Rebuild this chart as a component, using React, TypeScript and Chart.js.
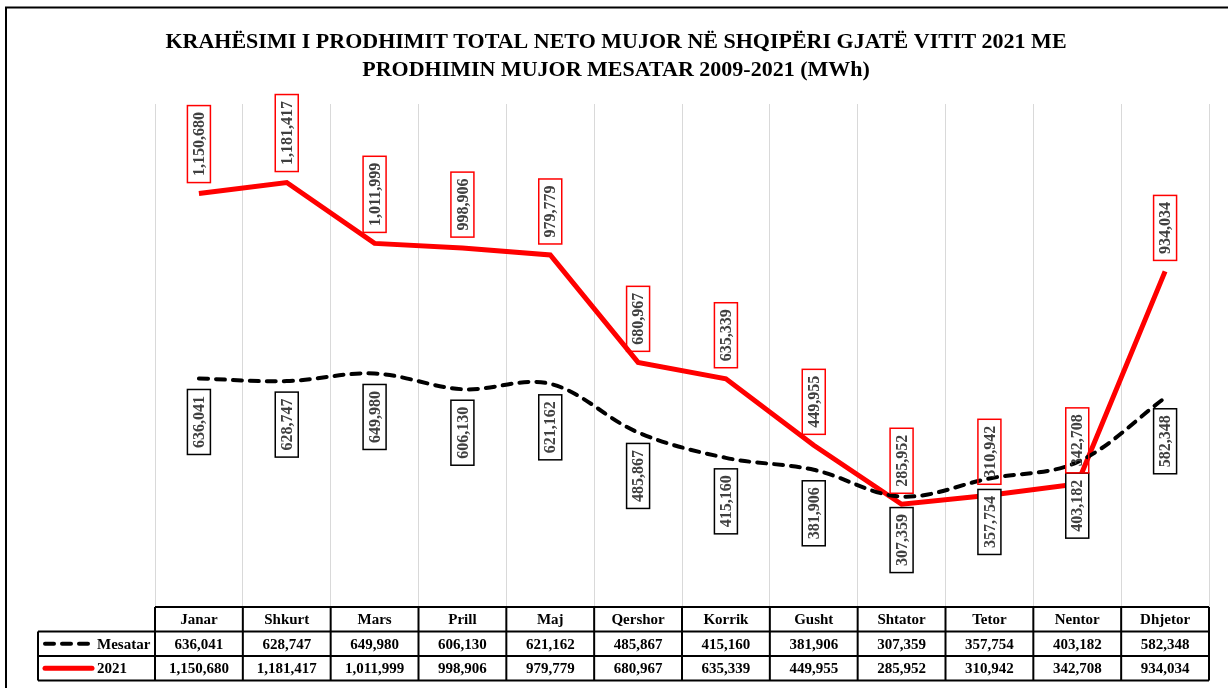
import React, { useEffect, useRef } from 'react';
import { Chart, registerables } from 'chart.js';

Chart.register(...registerables);

const titleLines = [
  'KRAHËSIMI I PRODHIMIT TOTAL NETO MUJOR NË SHQIPËRI GJATË VITIT 2021 ME',
  'PRODHIMIN MUJOR MESATAR 2009-2021 (MWh)',
];
const months = ['Janar', 'Shkurt', 'Mars', 'Prill', 'Maj', 'Qershor', 'Korrik', 'Gusht', 'Shtator', 'Tetor', 'Nentor', 'Dhjetor'];
const seriesNames = ['Mesatar', '2021'];
const mesatar = [636041, 628747, 649980, 606130, 621162, 485867, 415160, 381906, 307359, 357754, 403182, 582348];
const prod2021 = [1150680, 1181417, 1011999, 998906, 979779, 680967, 635339, 449955, 285952, 310942, 342708, 934034];

const FONT = '"Liberation Serif", "Times New Roman", serif';
const fmt = (v: number) => v.toLocaleString('en-US');

const decor = {
  id: 'decor',
  beforeDraw(chart: any) {
    const ctx = chart.ctx;
    ctx.save();
    ctx.fillStyle = '#ffffff';
    ctx.fillRect(0, 0, chart.width, chart.height);
    // frame
    ctx.strokeStyle = '#000';
    ctx.lineWidth = 2;
    ctx.beginPath();
    ctx.moveTo(6, chart.height);
    ctx.lineTo(6, 7.5);
    ctx.lineTo(chart.width, 7.5);
    ctx.stroke();
    // title
    ctx.fillStyle = '#000';
    ctx.font = `bold 22px ${FONT}`;
    ctx.textAlign = 'center';
    ctx.textBaseline = 'alphabetic';
    ctx.fillText(titleLines[0], 616, 48);
    ctx.fillText(titleLines[1], 616, 76);
    ctx.restore();
  },
  afterDatasetsDraw(chart: any) {
    const ctx = chart.ctx;
    chart.data.datasets.forEach((ds: any, di: number) => {
      const meta = chart.getDatasetMeta(di);
      const above = di === 1;
      meta.data.forEach((pt: any, i: number) => {
        const text = fmt(ds.data[i]);
        ctx.save();
        ctx.font = `bold 16px ${FONT}`;
        const tw = ctx.measureText(text).width;
        const bw = 23;
        const bh = tw + 13;
        const cx = pt.x;
        const top = above ? pt.y - 11 - bh : pt.y + 11;
        if (!above) {
          ctx.fillStyle = '#fff';
          ctx.fillRect(cx - bw / 2, top, bw, bh);
        }
        ctx.strokeStyle = above ? '#ff0000' : '#000';
        ctx.lineWidth = 1.5;
        ctx.strokeRect(cx - bw / 2, top, bw, bh);
        ctx.translate(cx, top + bh / 2);
        ctx.rotate(-Math.PI / 2);
        ctx.fillStyle = '#404040';
        ctx.textAlign = 'center';
        ctx.textBaseline = 'middle';
        ctx.fillText(text, 0, 1);
        ctx.restore();
      });
    });
  },
  afterDraw(chart: any) {
    const ctx = chart.ctx;
    const xs = chart.scales.x;
    const { left, right, bottom } = chart.chartArea;
    const colW = (right - left) / months.length;
    const rowH = 24.5;
    const y0 = bottom;
    const y1 = y0 + rowH;
    const y2 = y1 + rowH;
    const y3 = y2 + rowH;
    const legL = 38;
    ctx.save();
    ctx.strokeStyle = '#000';
    ctx.lineWidth = 2;
    ctx.beginPath();
    ctx.moveTo(left, y0); ctx.lineTo(right, y0);
    [y1, y2, y3].forEach((y) => { ctx.moveTo(legL, y); ctx.lineTo(right, y); });
    ctx.moveTo(legL, y1); ctx.lineTo(legL, y3);
    for (let k = 0; k <= months.length; k++) {
      const x = left + k * colW;
      ctx.moveTo(x, y0); ctx.lineTo(x, y3);
    }
    ctx.stroke();

    ctx.fillStyle = '#000';
    ctx.font = `bold 15px ${FONT}`;
    ctx.textAlign = 'center';
    ctx.textBaseline = 'middle';
    months.forEach((m, i) => {
      const cx = xs.getPixelForValue(i);
      ctx.fillText(m, cx, (y0 + y1) / 2 + 1);
      ctx.fillText(fmt(mesatar[i]), cx, (y1 + y2) / 2 + 1);
      ctx.fillText(fmt(prod2021[i]), cx, (y2 + y3) / 2 + 1);
    });

    // legend keys
    const r1 = (y1 + y2) / 2;
    const r2 = (y2 + y3) / 2;
    ctx.lineCap = 'round';
    ctx.strokeStyle = '#000';
    ctx.lineWidth = 4;
    ctx.setLineDash([9, 8]);
    ctx.beginPath(); ctx.moveTo(45, r1); ctx.lineTo(90, r1); ctx.stroke();
    ctx.setLineDash([]);
    ctx.strokeStyle = '#ff0000';
    ctx.lineWidth = 5;
    ctx.beginPath(); ctx.moveTo(45, r2); ctx.lineTo(92, r2); ctx.stroke();
    ctx.textAlign = 'left';
    ctx.fillStyle = '#000';
    ctx.fillText(seriesNames[0], 97, r1 + 1);
    ctx.fillText(seriesNames[1], 97, r2 + 1);
    ctx.restore();
  },
};

export default function App() {
  const ref = useRef<HTMLCanvasElement>(null);
  useEffect(() => {
    if (!ref.current) return;
    const chart = new Chart(ref.current, {
      type: 'line',
      data: {
        labels: months,
        datasets: [
          {
            label: seriesNames[0],
            data: mesatar,
            borderColor: '#000000',
            borderWidth: 4,
            borderDash: [9, 8],
            borderCapStyle: 'round',
            tension: 0.35,
            pointRadius: 0,
            pointHoverRadius: 0,
            fill: false,
          },
          {
            label: seriesNames[1],
            data: prod2021,
            borderColor: '#ff0000',
            borderWidth: 5,
            tension: 0,
            pointRadius: 0,
            pointHoverRadius: 0,
            fill: false,
          },
        ],
      },
      options: {
        responsive: false,
        animation: false,
        events: [],
        layout: { padding: { left: 155, right: 19, top: 104, bottom: 81 } },
        plugins: { legend: { display: false }, tooltip: { enabled: false }, title: { display: false } },
        scales: {
          x: {
            display: true,
            offset: true,
            grid: { offset: true, drawTicks: false, color: '#d9d9d9', lineWidth: 1 },
            border: { display: false },
            ticks: { display: false },
          },
          y: { display: false, min: 0, max: 1400000 },
        },
      },
      plugins: [decor],
    } as any);
    return () => chart.destroy();
  }, []);
  return (
    <div style={{ position: 'fixed', left: 0, top: 0, width: 1228, height: 688, background: '#fff' }}>
      <canvas ref={ref} width={1228} height={688} style={{ display: 'block' }} />
    </div>
  );
}
